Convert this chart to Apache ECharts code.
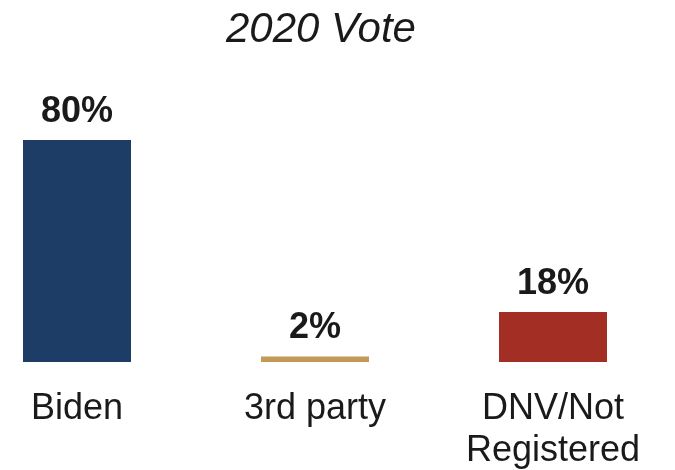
<!DOCTYPE html>
<html><head><meta charset="utf-8">
<script src="https://cdn.jsdelivr.net/npm/echarts@6/dist/echarts.min.js"></script>
<style>html,body{margin:0;padding:0;background:#fff}#c{width:675px;height:470px}</style>
</head><body><div id="c"></div>
<script>
const titleText = '2020 Vote';
const categories = ['Biden', '3rd party', 'DNV/Not\nRegistered'];
const values = [80, 2, 18];
const colors = ['#1e3d66', '#c19a55', '#a32e24'];

const chart = echarts.init(document.getElementById('c'), null, {renderer: 'canvas'});
chart.setOption({
  animation: false,
  title: {
    text: titleText, left: 221, top: 4,
    textStyle: {fontFamily: 'Liberation Sans, Arial, sans-serif', fontStyle: 'italic', fontWeight: 'normal', fontSize: 42, color: '#1a1a1a'}
  },
  grid: {left: -42, width: 714, top: 84.5, bottom: 108, containLabel: false, outerBoundsMode: 'none'},
  xAxis: {
    type: 'category', data: categories,
    axisLine: {show: false}, axisTick: {show: false},
    axisLabel: {
      margin: 26, interval: 0,
      fontFamily: 'Liberation Sans, Arial, sans-serif', fontSize: 36, lineHeight: 42, color: '#1a1a1a'
    }
  },
  yAxis: {type: 'value', min: 0, max: 100, show: false, splitLine: {show: false}},
  series: [{
    type: 'bar', barWidth: 108,
    data: values.map((v, i) => ({value: v, itemStyle: {color: colors[i]}})),
    label: {
      show: true, position: 'top', distance: 10, formatter: '{c}%',
      fontFamily: 'Liberation Sans, Arial, sans-serif', fontWeight: 'bold', fontSize: 36, color: '#1a1a1a'
    }
  }]
});
</script></body></html>
